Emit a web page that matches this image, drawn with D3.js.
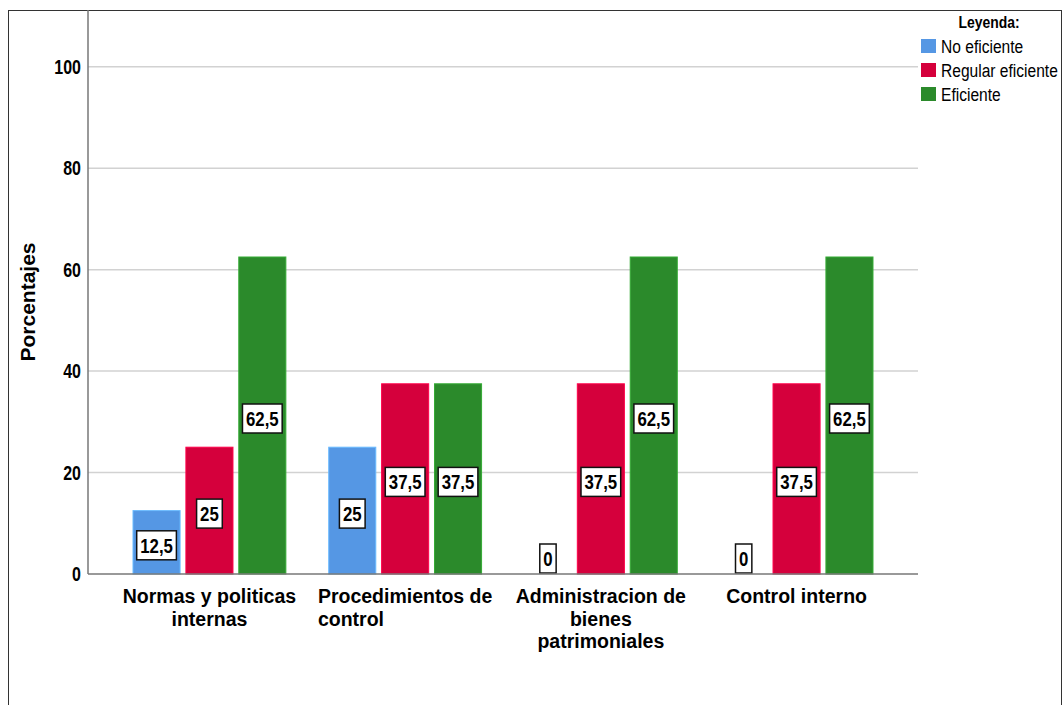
<!DOCTYPE html>
<html>
<head>
<meta charset="utf-8">
<script src="https://cdn.jsdelivr.net/npm/d3@7"></script>
<style>
  html, body { margin: 0; padding: 0; background: #fff; }
</style>
</head>
<body>
<script>
const categories = ["Normas y politicas internas", "Procedimientos de control", "Administracion de bienes patrimoniales", "Control interno"];
const categoryLines = [["Normas y politicas", "internas"], ["Procedimientos de", "control"], ["Administracion de", "bienes", "patrimoniales"], ["Control interno"]];
const categoryAlign = ["middle", "start", "middle", "middle"];
const seriesNames = ["No eficiente", "Regular eficiente", "Eficiente"];
const noEficiente = [12.5, 25, 0, 0];
const regularEficiente = [25, 37.5, 37.5, 37.5];
const eficiente = [62.5, 37.5, 62.5, 62.5];
const yTicks = [0, 20, 40, 60, 80, 100];

const width = 1063;
const height = 705;
const plot = { left: 88, right: 918, top: 10, bottom: 574 };
const colors = ["#5597e4", "#d5003c", "#2b8a2b"];
const sans = "'Liberation Sans', Arial, Helvetica, sans-serif";
const squeeze = 0.82; // emulate a narrow face by scaling Liberation Sans horizontally

const seriesValues = [noEficiente, regularEficiente, eficiente];
const rows = categories.map((c, i) => ({
  category: c,
  values: seriesNames.map((s, j) => ({ key: s, value: seriesValues[j][i], idx: j })),
}));

const svg = d3.select("body").append("svg")
  .attr("width", width)
  .attr("height", height)
  .attr("viewBox", `0 0 ${width} ${height}`);

// narrow text helper
function narrowText(parent, x, yy, str, size, weight, anchor) {
  return parent.append("text")
    .attr("transform", `translate(${x},${yy}) scale(${squeeze},1)`)
    .attr("text-anchor", anchor || "start")
    .attr("font-family", sans)
    .attr("font-size", size)
    .attr("font-weight", weight || 400)
    .attr("fill", "#000")
    .text(str);
}

// outer frame
svg.append("rect")
  .attr("x", 8.5).attr("y", 10.5)
  .attr("width", 1053).attr("height", 720)
  .attr("fill", "none").attr("stroke", "#333").attr("stroke-width", 1);

const y = d3.scaleLinear().domain([0, 111.2]).range([plot.bottom, plot.top]);

const x0 = d3.scaleBand()
  .domain(categories)
  .range([plot.left, plot.right])
  .paddingInner(0.219)
  .paddingOuter(0.23);

const x1 = d3.scaleBand()
  .domain(seriesNames)
  .range([0, x0.bandwidth()])
  .paddingInner(0.11);

// gridlines
svg.append("g")
  .selectAll("line")
  .data(yTicks.filter((t) => t > 0))
  .join("line")
  .attr("x1", plot.left).attr("x2", plot.right)
  .attr("y1", (d) => y(d)).attr("y2", (d) => y(d))
  .attr("stroke", "#d2d2d2").attr("stroke-width", 1.5);

// y tick labels
const yAxis = svg.append("g");
yTicks.forEach((t) => {
  narrowText(yAxis, plot.left - 7, y(t) + 7, t, 19.5, 700, "end");
});

svg.append("line")
  .attr("x1", plot.left).attr("x2", plot.left)
  .attr("y1", plot.top).attr("y2", plot.bottom)
  .attr("stroke", "#777").attr("stroke-width", 1.5);

// bars
const groups = svg.append("g")
  .selectAll("g")
  .data(rows)
  .join("g")
  .attr("transform", (d) => `translate(${x0(d.category)},0)`);

groups.selectAll("rect")
  .data((d) => d.values)
  .join("rect")
  .attr("x", (d) => x1(d.key))
  .attr("y", (d) => y(d.value))
  .attr("width", x1.bandwidth())
  .attr("height", (d) => y(0) - y(d.value))
  .attr("fill", (d) => colors[d.idx])
  .attr("stroke", (d) => d3.color(colors[d.idx]).brighter(0.6))
  .attr("stroke-width", 1);

// baseline
svg.append("line")
  .attr("x1", plot.left).attr("x2", plot.right)
  .attr("y1", plot.bottom).attr("y2", plot.bottom)
  .attr("stroke", "#777").attr("stroke-width", 1.5);

// value labels
const fmt = (v) => String(v).replace(".", ",");
const labels = groups.selectAll("g.lbl")
  .data((d) => d.values)
  .join("g")
  .attr("class", "lbl");

labels.each(function (d) {
  const g = d3.select(this);
  const cx = x1(d.key) + x1.bandwidth() / 2;
  const h = 29;
  let cy = (y(d.value) + y(0)) / 2 + 3;
  if (cy + h / 2 > y(0) - 1) cy = y(0) - 1 - h / 2;
  const t = narrowText(g, cx, cy + 7.5, fmt(d.value), 20.5, 700, "middle");
  const w = t.node().getComputedTextLength() * squeeze + 7;
  g.insert("rect", "text")
    .attr("x", cx - w / 2)
    .attr("y", cy - h / 2)
    .attr("width", w)
    .attr("height", h)
    .attr("fill", "#fff")
    .attr("stroke", "#111")
    .attr("stroke-width", 1.5);
});

// category labels
categories.forEach((c, i) => {
  const cx = x0(c) + x0.bandwidth() / 2;
  const lines = categoryLines[i];
  const t = svg.append("text")
    .attr("font-family", sans)
    .attr("font-size", 19.5)
    .attr("font-weight", 700)
    .attr("fill", "#000");
  const spans = lines.map((line, k) => t.append("tspan")
    .attr("x", cx)
    .attr("y", 603 + k * 22.5)
    .attr("text-anchor", "middle")
    .text(line));
  if (categoryAlign[i] === "start") {
    const w0 = spans[0].node().getComputedTextLength();
    spans.forEach((s) => s.attr("text-anchor", "start").attr("x", cx - w0 / 2));
  }
});

// y title
svg.append("text")
  .attr("transform", `translate(35,${(plot.top + plot.bottom) / 2 + 10}) rotate(-90)`)
  .attr("text-anchor", "middle")
  .attr("font-family", sans)
  .attr("font-size", 21)
  .attr("font-weight", 700)
  .attr("fill", "#000")
  .text("Porcentajes");

// legend
const legend = svg.append("g");
narrowText(legend, 989, 28, "Leyenda:", 17, 700, "middle");

const items = legend.selectAll("g.item")
  .data(seriesNames)
  .join("g")
  .attr("class", "item")
  .attr("transform", (d, i) => `translate(921,${39 + i * 24})`);
items.append("rect")
  .attr("width", 15).attr("height", 14)
  .attr("fill", (d, i) => colors[i]);
items.each(function (d) {
  narrowText(d3.select(this), 20, 13.5, d, 19, 400, "start");
});
</script>
</body>
</html>
